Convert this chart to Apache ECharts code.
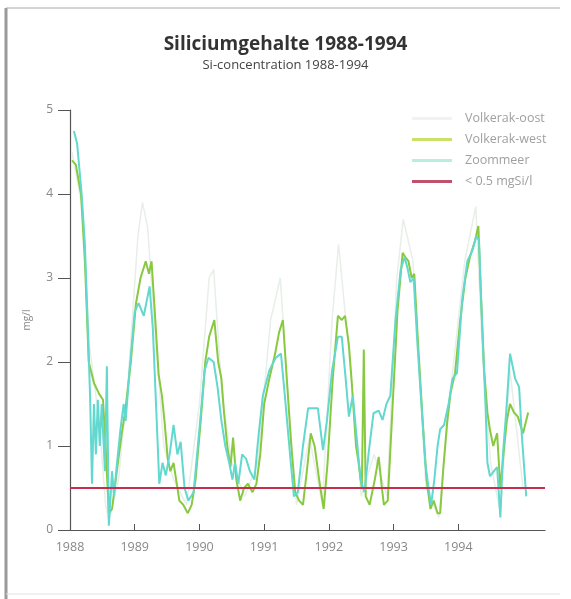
<!DOCTYPE html>
<html>
<head>
<meta charset="utf-8">
<script src="https://cdn.jsdelivr.net/npm/echarts@6/dist/echarts.min.js"></script>
<style>
html,body{margin:0;padding:0;background:#fff;}
#chart{width:571px;height:599px;}
</style>
</head>
<body>
<div id="chart"></div>
<script>
const titleText = 'Siliciumgehalte 1988-1994';
const subtitleText = 'Si-concentration 1988-1994';
const yTicks = [0, 1, 2, 3, 4, 5];
const xTickYears = [1988, 1989, 1990, 1991, 1992, 1993, 1994];
const seriesNames = ['Volkerak-oost', 'Volkerak-west', 'Zoommeer', '< 0.5 mgSi/l'];

const volkerakOost = [
  [1988.03,4.5],[1988.2,3.8],[1988.3,2.2],[1988.45,1.3],[1988.55,0.3],[1988.6,0.1],[1988.75,0.6],
  [1988.9,1.8],[1989.05,3.5],[1989.12,3.9],[1989.2,3.6],[1989.3,2.5],[1989.45,1.0],[1989.6,0.6],
  [1989.8,0.3],[1990.0,1.5],[1990.15,3.0],[1990.22,3.1],[1990.35,1.6],[1990.5,0.8],[1990.7,0.4],
  [1990.9,0.8],[1991.1,2.5],[1991.25,3.0],[1991.35,1.8],[1991.5,0.3],[1991.7,1.1],[1991.9,0.3],
  [1992.05,2.5],[1992.15,3.4],[1992.3,2.2],[1992.5,0.4],[1992.7,0.9],[1992.9,0.4],[1993.05,3.0],
  [1993.15,3.7],[1993.3,3.2],[1993.5,0.5],[1993.7,0.15],[1993.9,1.8],[1994.1,3.2],[1994.27,3.85],
  [1994.38,2.0],[1994.5,0.8],[1994.65,0.2],[1994.8,1.9],[1995.0,0.5]
];

const volkerakWest = [
  [1988.03,4.4],[1988.09,4.35],[1988.17,4.0],[1988.23,3.2],[1988.29,2.0],[1988.37,1.75],[1988.45,1.62],
  [1988.51,1.55],[1988.55,1.0],[1988.6,0.2],[1988.65,0.25],[1988.69,0.5],[1988.74,0.8],[1988.8,1.15],
  [1988.86,1.45],[1988.94,2.0],[1989.02,2.7],[1989.09,3.0],[1989.17,3.2],[1989.22,3.05],[1989.26,3.2],
  [1989.31,2.6],[1989.37,1.85],[1989.42,1.6],[1989.46,1.3],[1989.51,0.85],[1989.55,0.7],[1989.6,0.8],
  [1989.65,0.55],[1989.69,0.35],[1989.75,0.3],[1989.82,0.2],[1989.88,0.3],[1989.94,0.6],[1990.02,1.3],
  [1990.09,2.0],[1990.15,2.3],[1990.23,2.5],[1990.29,2.0],[1990.34,1.8],[1990.38,1.4],[1990.43,1.0],
  [1990.48,0.75],[1990.52,1.1],[1990.57,0.6],[1990.63,0.35],[1990.69,0.5],[1990.75,0.55],[1990.82,0.45],
  [1990.88,0.55],[1990.94,0.9],[1991.0,1.5],[1991.08,1.8],[1991.17,2.1],[1991.23,2.35],[1991.29,2.5],
  [1991.35,1.8],[1991.42,1.0],[1991.48,0.45],[1991.54,0.35],[1991.6,0.3],[1991.66,0.7],[1991.72,1.15],
  [1991.78,1.0],[1991.85,0.6],[1991.92,0.25],[1991.98,0.8],[1992.06,1.8],[1992.14,2.55],[1992.2,2.5],
  [1992.25,2.55],[1992.31,2.2],[1992.35,1.8],[1992.42,1.0],[1992.46,0.8],[1992.51,0.5],[1992.54,2.15],
  [1992.57,0.4],[1992.63,0.3],[1992.71,0.6],[1992.77,0.87],[1992.82,0.5],[1992.85,0.3],[1992.91,0.35],
  [1992.98,1.4],[1993.06,2.6],[1993.14,3.3],[1993.18,3.25],[1993.23,3.2],[1993.28,3.0],[1993.32,3.05],
  [1993.38,2.2],[1993.45,1.3],[1993.51,0.6],[1993.57,0.25],[1993.62,0.35],[1993.68,0.2],[1993.72,0.2],
  [1993.77,0.75],[1993.83,1.3],[1993.88,1.63],[1993.95,1.87],[1994.03,2.5],[1994.11,3.0],[1994.18,3.25],
  [1994.26,3.45],[1994.31,3.62],[1994.35,2.8],[1994.4,1.9],[1994.45,1.4],[1994.49,1.19],[1994.54,1.0],
  [1994.6,1.15],[1994.65,0.5],[1994.71,1.0],[1994.75,1.3],[1994.8,1.5],[1994.86,1.4],[1994.92,1.35],
  [1995.0,1.15],[1995.08,1.4]
];

const zoommeer = [
  [1988.06,4.75],[1988.11,4.6],[1988.18,4.0],[1988.23,3.4],[1988.28,2.3],[1988.31,1.6],[1988.34,0.55],
  [1988.37,1.5],[1988.4,0.9],[1988.43,1.55],[1988.46,1.0],[1988.49,1.5],[1988.54,0.7],[1988.57,1.95],
  [1988.6,0.05],[1988.65,0.7],[1988.68,0.4],[1988.72,0.75],[1988.78,1.2],[1988.83,1.5],[1988.86,1.3],
  [1988.92,1.9],[1989.0,2.6],[1989.06,2.7],[1989.14,2.55],[1989.23,2.9],[1989.28,2.4],[1989.34,1.3],
  [1989.38,0.55],[1989.43,0.8],[1989.48,0.65],[1989.54,0.9],[1989.6,1.25],[1989.66,0.9],[1989.71,1.05],
  [1989.77,0.5],[1989.83,0.35],[1989.91,0.45],[1990.0,1.2],[1990.08,1.9],[1990.14,2.05],[1990.22,2.0],
  [1990.28,1.7],[1990.34,1.3],[1990.4,1.0],[1990.46,0.8],[1990.51,0.6],[1990.55,0.8],[1990.6,0.55],
  [1990.66,0.9],[1990.72,0.85],[1990.78,0.7],[1990.85,0.6],[1990.91,1.1],[1990.98,1.6],[1991.08,1.9],
  [1991.18,2.05],[1991.26,2.1],[1991.32,1.6],[1991.4,0.9],[1991.46,0.4],[1991.52,0.45],[1991.6,1.0],
  [1991.68,1.45],[1991.75,1.45],[1991.83,1.45],[1991.91,0.95],[1991.97,1.3],[1992.05,1.9],[1992.14,2.3],
  [1992.2,2.3],[1992.26,1.8],[1992.31,1.35],[1992.37,1.6],[1992.43,1.1],[1992.49,0.6],[1992.55,0.45],
  [1992.62,0.95],[1992.69,1.39],[1992.77,1.42],[1992.83,1.31],[1992.89,1.5],[1992.95,1.6],[1993.03,2.5],
  [1993.11,3.1],[1993.17,3.25],[1993.22,3.1],[1993.26,2.95],[1993.31,3.0],[1993.37,2.2],[1993.43,1.5],
  [1993.49,0.8],[1993.54,0.5],[1993.58,0.3],[1993.63,0.6],[1993.68,1.0],[1993.72,1.2],[1993.78,1.25],
  [1993.85,1.5],[1993.91,1.8],[1993.98,1.87],[1994.06,2.74],[1994.14,3.2],[1994.22,3.33],[1994.28,3.5],
  [1994.32,3.45],[1994.37,2.4],[1994.42,1.5],[1994.45,0.8],[1994.49,0.64],[1994.55,0.7],[1994.6,0.75],
  [1994.65,0.15],[1994.69,0.9],[1994.74,1.4],[1994.8,2.1],[1994.88,1.8],[1994.94,1.7],[1994.98,1.15],
  [1995.05,0.4]
];

const thresholdLine = [[1988, 0.5], [1995.34, 0.5]];

const chart = echarts.init(document.getElementById('chart'));
const fontFam = '"Open Sans", "DejaVu Sans", sans-serif';

chart.setOption({
  animation: false,
  backgroundColor: '#ffffff',
  title: {
    text: titleText,
    subtext: subtitleText,
    left: 'center',
    top: 30,
    itemGap: 5,
    textStyle: { fontFamily: fontFam, fontSize: 19, fontWeight: 'bold', color: '#333' },
    subtextStyle: { fontFamily: fontFam, fontSize: 13, color: '#444' }
  },
  legend: {
    data: seriesNames,
    orient: 'vertical',
    left: 407,
    top: 107,
    itemWidth: 40,
    itemHeight: 3,
    itemGap: 8,
    icon: 'rect',
    textStyle: { fontFamily: fontFam, fontSize: 12.5, color: '#a0a0a0', padding: [0, 0, 0, 8] }
  },
  grid: { left: 70, right: 26, top: 110, bottom: 69, containLabel: false },
  xAxis: {
    type: 'value',
    min: 1988,
    max: 1995.34,
    interval: 1,
    splitLine: { show: false },
    axisLine: { show: true, lineStyle: { color: '#555', width: 1.2 } },
    axisTick: { show: true, inside: true, length: 6, customValues: xTickYears, lineStyle: { color: '#555' } },
    axisLabel: { customValues: xTickYears, margin: 11, fontFamily: fontFam, fontSize: 12.5, color: '#888',
      formatter: v => String(Math.round(v)) }
  },
  yAxis: {
    type: 'value',
    min: 0,
    max: 5,
    interval: 1,
    name: 'mg/l',
    nameLocation: 'middle',
    nameGap: 38,
    nameTextStyle: { fontFamily: fontFam, fontSize: 10, color: '#888' },
    splitLine: { show: false },
    axisLine: { show: true, lineStyle: { color: '#555', width: 1.2 } },
    axisTick: { show: true, inside: false, length: 12, lineStyle: { color: '#555' } },
    axisLabel: { margin: 17, fontFamily: fontFam, fontSize: 12, color: '#888' }
  },
  series: [
    { name: seriesNames[0], type: 'line', data: volkerakOost, symbol: 'none',
      lineStyle: { color: '#e8eee8', width: 1.5 }, itemStyle: { color: '#f0f3f0' }, z: 1 },
    { name: seriesNames[1], type: 'line', data: volkerakWest, symbol: 'none',
      lineStyle: { color: '#88c940', width: 2 }, itemStyle: { color: '#c9e06a' }, z: 2 },
    { name: seriesNames[2], type: 'line', data: zoommeer, symbol: 'none',
      lineStyle: { color: '#62d8cf', width: 2 }, itemStyle: { color: '#b8eee0' }, z: 3 },
    { name: seriesNames[3], type: 'line', data: thresholdLine, symbol: 'none',
      lineStyle: { color: '#c62e4e', width: 2 }, itemStyle: { color: '#c0506e' }, z: 4 }
  ],
  graphic: [
    { type: 'line', shape: { x1: 6, y1: 8, x2: 6, y2: 599 }, style: { stroke: '#9a9a9a', lineWidth: 3 }, silent: true },
    { type: 'line', shape: { x1: 6, y1: 8, x2: 560, y2: 8 }, style: { stroke: '#aaaaaa', lineWidth: 1 }, silent: true },
    { type: 'line', shape: { x1: 6, y1: 594, x2: 560, y2: 594 }, style: { stroke: '#e2e2e2', lineWidth: 1 }, silent: true }
  ]
});
</script>
</body>
</html>
